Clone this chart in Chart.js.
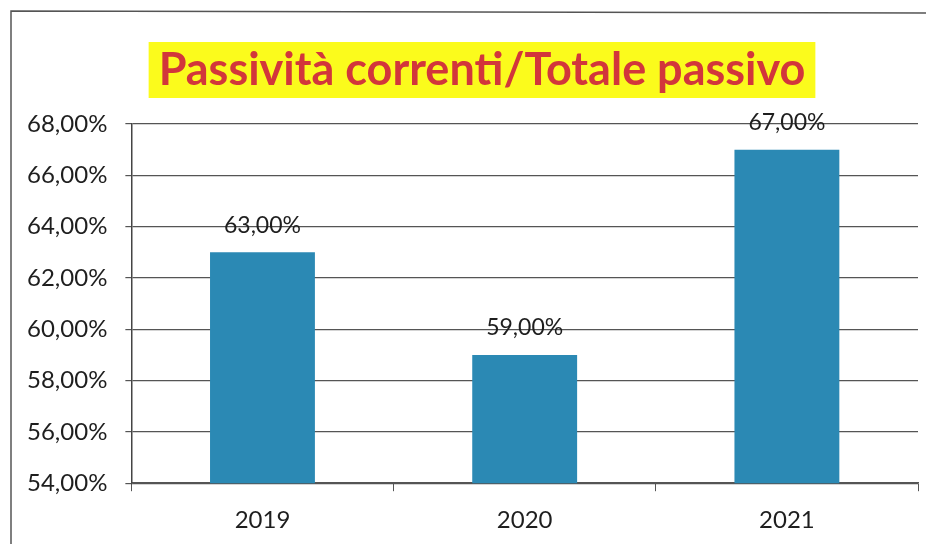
<!DOCTYPE html>
<html>
<head>
<meta charset="utf-8">
<script src="https://cdn.jsdelivr.net/npm/chart.js@4"></script>
<style>
  html, body { margin: 0; padding: 0; background: #fff; }
  #wrap { width: 935px; height: 544px; }
</style>
</head>
<body>
<div id="wrap"><canvas id="chart" width="935" height="544"></canvas></div>
<script>
const years = ['2019', '2020', '2021']
const ratios = [63, 59, 67]
const titleText = 'Passività correnti/Totale passivo'

function pct(v) {
  return v.toFixed(2).replace('.', ',') + '%'
}

// outer frame (left and top edges only) + highlighted title
const framePlugin = {
  id: 'frame',
  beforeDraw(chart) {
    let ctx = chart.ctx
    ctx.save()
    ctx.fillStyle = '#fff'
    ctx.fillRect(0, 0, chart.width, chart.height)
    ctx.strokeStyle = '#555'
    ctx.lineWidth = 1.5
    ctx.beginPath()
    ctx.moveTo(11, chart.height)
    ctx.lineTo(11, 11)
    ctx.lineTo(926, 13)
    ctx.stroke()

    ctx.font = 'bold 45px Lato'
    ctx.textAlign = 'center'
    ctx.textBaseline = 'middle'
    let w = ctx.measureText(titleText).width
    let cx = 482, cy = 70
    ctx.fillStyle = '#fbfb1c'
    ctx.fillRect(cx - w / 2 - 10, 42, w + 20, 56)
    ctx.fillStyle = '#d2363b'
    ctx.fillText(titleText, cx, cy)
    ctx.restore()
  }
}

// value labels above each bar
const valueLabels = {
  id: 'valueLabels',
  afterDatasetsDraw(chart) {
    let ctx = chart.ctx
    ctx.save()
    ctx.font = '23px Lato'
    ctx.fillStyle = '#1e1e1e'
    ctx.textAlign = 'center'
    ctx.textBaseline = 'middle'
    chart.getDatasetMeta(0).data.forEach((bar, i) => {
      ctx.fillText(pct(ratios[i]), bar.x, bar.y - 27)
    })
    ctx.restore()
  }
}

let ctx = document.getElementById('chart').getContext('2d')
let chart = new Chart(ctx, {
  type: 'bar',
  data: {
    labels: years,
    datasets: [{
      label: titleText,
      data: ratios,
      backgroundColor: '#2b89b4',
      categoryPercentage: 1,
      barPercentage: 0.4
    }]
  },
  options: {
    responsive: false,
    animation: false,
    layout: {
      padding: { top: 124, left: 9, right: 17, bottom: -6 }
    },
    plugins: {
      legend: { display: false },
      title: { display: false },
      tooltip: { enabled: false }
    },
    scales: {
      x: {
        offset: true,
        grid: {
          offset: true,
          drawOnChartArea: false,
          drawTicks: true,
          tickLength: 8,
          color: '#555'
        },
        border: { color: '#555', width: 1.5 },
        ticks: {
          color: '#1e1e1e',
          padding: 15,
          font: { family: 'Lato', size: 24 }
        }
      },
      y: {
        min: 54,
        max: 68,
        grid: {
          color: '#555',
          lineWidth: 1.2,
          tickLength: 6
        },
        border: { color: '#444', width: 1.5 },
        ticks: {
          stepSize: 2,
          color: '#1e1e1e',
          padding: 18,
          font: { family: 'Lato', size: 24 },
          callback: v => pct(v)
        }
      }
    }
  },
  plugins: [framePlugin, valueLabels]
})
</script>
</body>
</html>
